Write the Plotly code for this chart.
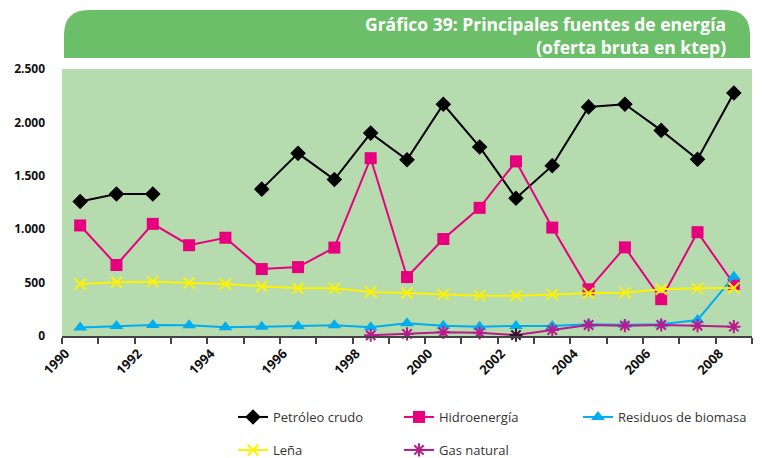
import plotly.graph_objects as go

# Oferta bruta por fuente de energía (ktep), 1990-2008
years = list(range(1990, 2009))
petroleo_crudo = [1260, 1330, 1330, None, None, 1375, 1710, 1465, 1900, 1650,
                  2170, 1770, 1290, 1595, 2145, 2170, 1925, 1655, 2275]
hidroenergia = [1035, 665, 1050, 850, 920, 627, 645, 828, 1665, 552,
                908, 1200, 1635, 1015, 437, 830, 345, 972, 487]
residuos_biomasa = [80, 94, 103, 100, 81, 87, 91, 100, 81, 119,
                    97, 87, 94, 94, 109, 105, 109, 150, 555]
lena = [487, 503, 509, 496, 487, 465, 446, 446, 412, 403,
        390, 378, 378, 390, 400, 406, 437, 446, 449]
gas_natural = [None] * 8 + [7, 19, 34, 30, 9, 56, 103, 97, 103, 97, 87]

y_ticks = [0, 500, 1000, 1500, 2000, 2500]
x_label_years = list(range(1990, 2009, 2))

W, H = 764, 458
L, R, T, B = 62, 12, 69, 122
plot_w, plot_h = W - L - R, H - T - B

FONT = "Open Sans"
C_PET = "#000000"
C_HID = "#E6007E"
C_BIO = "#00AEEF"
C_LEN = "#FFF200"
C_GAS = "#B81C8C"

# the 2002 gas marker is drawn in a dark shade
gas_marker_colors = [("#3A1030" if y == 2002 else C_GAS) for y in years]

fig = go.Figure()

fig.add_trace(go.Scatter(
    x=years, y=petroleo_crudo, name="Petróleo crudo", mode="lines+markers",
    line=dict(color=C_PET, width=2), connectgaps=False, cliponaxis=False,
    marker=dict(symbol="diamond", size=12, color=C_PET), legend="legend"))
fig.add_trace(go.Scatter(
    x=years, y=hidroenergia, name="Hidroenergía", mode="lines+markers",
    line=dict(color=C_HID, width=2), cliponaxis=False,
    marker=dict(symbol="square", size=12, color=C_HID), legend="legend"))
fig.add_trace(go.Scatter(
    x=years, y=residuos_biomasa, name="Residuos de biomasa", mode="lines+markers",
    line=dict(color=C_BIO, width=2), cliponaxis=False,
    marker=dict(symbol="triangle-up", size=12, color=C_BIO), legend="legend3"))
fig.add_trace(go.Scatter(
    x=years, y=lena, name="Leña", mode="lines+markers",
    line=dict(color=C_LEN, width=2), cliponaxis=False,
    marker=dict(symbol="x-thin", size=11, color=C_LEN,
                line=dict(color=C_LEN, width=2)), legend="legend2"))
fig.add_trace(go.Scatter(
    x=years, y=gas_natural, name="Gas natural", mode="lines+markers",
    line=dict(color=C_GAS, width=2), connectgaps=False, cliponaxis=False,
    marker=dict(symbol="asterisk", size=11, color=gas_marker_colors,
                line=dict(color=gas_marker_colors, width=2)), legend="legend2"))


def px_x(x):
    return (x - L) / plot_w


def px_y(y):
    return (H - B - y) / plot_h


# Title banner with rounded top corners
bx0, bx1, by_top, by_bot, rad = 64, 750, 10, 58, 25
path = (
    f"M {px_x(bx0)} {px_y(by_bot)} "
    f"L {px_x(bx0)} {px_y(by_top + rad)} "
    f"Q {px_x(bx0)} {px_y(by_top)} {px_x(bx0 + rad)} {px_y(by_top)} "
    f"L {px_x(bx1 - rad)} {px_y(by_top)} "
    f"Q {px_x(bx1)} {px_y(by_top)} {px_x(bx1)} {px_y(by_top + rad)} "
    f"L {px_x(bx1)} {px_y(by_bot)} Z"
)
fig.add_shape(type="path", path=path, xref="paper", yref="paper",
              fillcolor="#6CBF69", line=dict(width=0), layer="above")

fig.add_annotation(
    text="Gráfico 39: Principales fuentes de energía<br>(oferta bruta en ktep)",
    xref="paper", yref="paper", x=px_x(728), y=px_y(36),
    xanchor="right", yanchor="middle", align="right", showarrow=False,
    font=dict(family=FONT, size=17.5, color="white", weight="bold"))

legend_common = dict(
    orientation="h", xref="container", yref="container",
    xanchor="left", yanchor="middle",
    entrywidth=121, entrywidthmode="pixels",
    font=dict(family=FONT, size=13, color="#333333"),
    bgcolor="rgba(0,0,0,0)")

fig.update_layout(
    width=W, height=H,
    margin=dict(l=L, r=R, t=T, b=B),
    paper_bgcolor="white",
    plot_bgcolor="#B6DBAF",
    separators=",.",
    font=dict(family=FONT, color="#222222"),
    showlegend=True,
    legend=dict(legend_common, x=233 / W, y=(H - 417) / H),
    legend2=dict(legend_common, x=233 / W, y=(H - 450) / H),
    legend3=dict(legend_common, x=578 / W, y=(H - 417) / H, entrywidth=160),
    xaxis=dict(
        range=[1989.5, 2008.5],
        tickvals=[y - 0.4 for y in x_label_years],
        ticktext=[str(y) for y in x_label_years],
        tickangle=-45, ticks="", showgrid=False, zeroline=False,
        ticklabelstandoff=3,
        showline=True, linecolor="#444444", linewidth=1.5,
        tickfont=dict(family=FONT, size=13, color="#111111", weight="bold"),
        minor=dict(ticks="outside", tick0=1989.5, dtick=1, ticklen=6,
                   tickcolor="#444444", tickwidth=1.5, showgrid=False)),
    yaxis=dict(
        range=[0, 2500], tickvals=y_ticks, tickformat=",d",
        showgrid=False, zeroline=False, showline=False, ticks="",
        ticklabelstandoff=16,
        tickfont=dict(family=FONT, size=12, color="#111111", weight="bold")),
)

fig.write_html("out.html")
